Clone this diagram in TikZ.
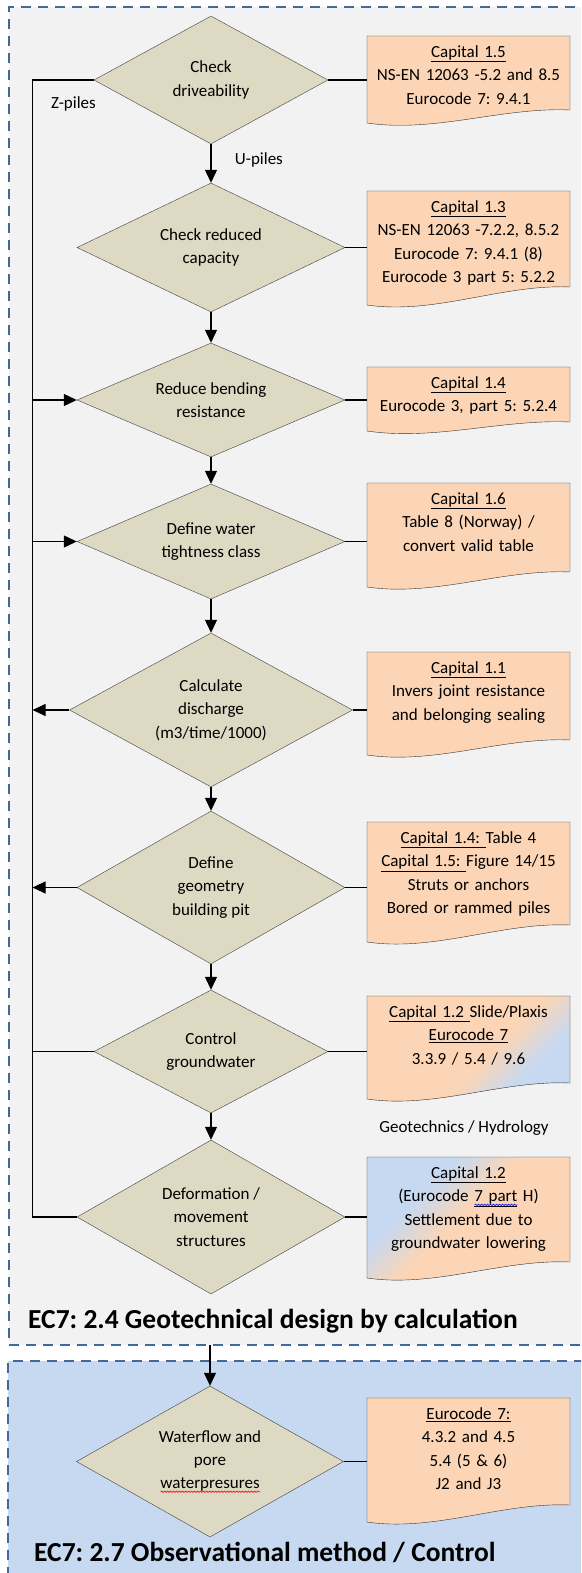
\documentclass[tikz,border=0pt]{standalone}
\usepackage{fontspec}
\setmainfont{Carlito}
\frenchspacing
\usetikzlibrary{shapes.geometric, arrows.meta, decorations.pathmorphing}

\definecolor{bgcalc}{RGB}{242,242,242}
\definecolor{bgobs}{RGB}{198,217,241}
\definecolor{dashblue}{RGB}{65,105,155}
\definecolor{tanfill}{RGB}{221,217,195}
\definecolor{docpeach}{RGB}{251,213,181}
\definecolor{docblue}{RGB}{198,217,241}

\pgfdeclarehorizontalshading{peachblue}{100bp}{color(0bp)=(docpeach); color(55bp)=(docpeach); color(68bp)=(docblue); color(100bp)=(docblue)}
\pgfdeclarehorizontalshading{bluepeach}{100bp}{color(0bp)=(docblue); color(34bp)=(docblue); color(47bp)=(docpeach); color(100bp)=(docpeach)}

\tikzstyle{phase} = [draw=dashblue, line width=2pt, dash pattern=on 10pt off 7pt, anchor=north west, outer sep=0pt]
\tikzstyle{check} = [diamond, draw=black!75, fill=tanfill, aspect=2, inner sep=0pt, align=center]
\tikzstyle{docpath} = [draw=black!80, fill=docpeach]
\tikzstyle{doctext} = [anchor=north, text width=191pt, inner xsep=6pt, inner ysep=0pt, align=center]
\tikzstyle{line} = [draw, line width=1.2pt]
\tikzstyle{arr} = [draw, line width=1.2pt, -{Triangle[length=13pt, width=12pt]}]
\tikzstyle{title} = [anchor=base west, inner sep=0pt, font=\fontsize{27.5}{32}\selectfont\bfseries]

% document sheet: [style] name, top, right bottom, left bottom, text
\newcommand{\docsheet}[6][]{%
  \path[docpath, #1] (367,#3) -- (570,#3) -- (570,#4)
    .. controls (502,#4-3) and (435,#5+10) .. (367,#5) -- cycle;
  \node[doctext] (#2) at (468.5,#3+9.5) {#6};}

% spell checker squiggle under a word
\newlength{\wavelen}
\newcommand{\spellwave}[2]{\settowidth{\wavelen}{#2}%
  \rlap{\tikz[baseline=3pt]\draw[#1, line width=0.6pt, decorate,
    decoration={snake, amplitude=0.7pt, segment length=3pt}] (0pt,0pt) -- (\wavelen,0pt);}#2}

\begin{document}
\begin{tikzpicture}[x=1pt, y=-1pt, font=\fontsize{17}{23.3}\selectfont]
    \useasboundingbox (0,0) rectangle (581,1573);
    \clip (0,0) rectangle (581,1573);

    \node[phase, fill=bgcalc, minimum width=600pt, minimum height=1338pt](calc) at (9,7) {};
    \node[phase, fill=bgobs, minimum width=600pt, minimum height=260pt](obs) at (8.3,1361) {};

    \node[check, minimum width=234pt, minimum height=128pt](d1) at (211,80) {Check\\driveability};
    \node[check, minimum width=268pt, minimum height=129pt](d2) at (211,247.5) {Check reduced\\capacity};
    \node[check, minimum width=268pt, minimum height=114pt](d3) at (211,400) {Reduce bending\\resistance};
    \node[check, minimum width=268pt, minimum height=115pt](d4) at (211,541.5) {Define water\\tightness class};
    \node[check, minimum width=283pt, minimum height=154pt](d5) at (211,710) {Calculate\\discharge\\(m3/time/1000)};
    \node[check, minimum width=268pt, minimum height=153pt](d6) at (211,887.5) {Define\\geometry\\building pit};
    \node[check, minimum width=234pt, minimum height=123pt](d7) at (211,1051.5) {Control\\groundwater};
    \node[check, minimum width=268pt, minimum height=154pt](d8) at (211,1217) {Deformation /\\movement\\structures};
    \node[check, minimum width=267pt, minimum height=151pt](d9) at (210,1461.5) {Waterflow and\\pore\\\spellwave{red}{waterpresures}};

    \docsheet{doc1}{36}{110}{123}{\underline{Capital 1.5}\\NS-EN 12063 -5.2 and 8.5\\Eurocode 7: 9.4.1}
    \docsheet{doc2}{191}{287}{305}{\underline{Capital 1.3}\\NS-EN 12063 -7.2.2, 8.5.2\\Eurocode 7: 9.4.1 (8)\\Eurocode 3 part 5: 5.2.2}
    \docsheet{doc3}{367}{422}{431}{\underline{Capital 1.4}\\Eurocode 3, part 5: 5.2.4}
    \docsheet{doc4}{483}{572}{587}{\underline{Capital 1.6}\\Table 8 (Norway) /\\convert valid table}
    \docsheet{doc5}{652}{740}{755}{\underline{Capital 1.1}\\Invers joint resistance\\and belonging sealing}
    \docsheet{doc6}{822}{925}{942}{\underline{Capital 1.4:\ }Table 4\\\underline{Capital 1.5:\ }Figure 14/15\\Struts or anchors\\Bored or rammed piles}
    \docsheet[shading=peachblue, shading angle=-45]{doc7}{996}{1083}{1099}{\underline{Capital 1.2\ }Slide/Plaxis\\\underline{Eurocode 7}\\3.3.9 / 5.4 / 9.6}
    \docsheet[shading=bluepeach, shading angle=-45]{doc8}{1157}{1262}{1278}{\underline{Capital 1.2}\\(Eurocode \spellwave{blue}{\underline{7 part}} H)\\Settlement due to\\groundwater lowering}
    \docsheet{doc9}{1398}{1505}{1522}{\underline{Eurocode 7:}\\4.3.2 and 4.5\\5.4 (5 \& 6)\\J2 and J3}

    % main column
    \path[arr] (d1) -- node[right, xshift=20pt, pos=0.4] {U-piles} (d2);
    \path[arr] (d2) -- (d3);
    \path[arr] (d3) -- (d4);
    \path[arr] (d4) -- (d5);
    \path[arr] (d5) -- (d6);
    \path[arr] (d6) -- (d7);
    \path[arr] (d7) -- (d8);
    \path[arr] (calc.south -| d9.north) -- (d9);

    % references
    \foreach \n in {1,...,9}
        \path[line] (d\n.east) -- (d\n.east -| doc\n.west);

    % Z-piles loop
    \coordinate (zline) at (32.6,0);
    \path[line] (d1.west) -- (d1.west -| zline) -- (d8.west -| zline) -- (d8.west);
    \path[arr] (d3.west -| zline) -- (d3.west);
    \path[arr] (d4.west -| zline) -- (d4.west);
    \path[arr] (d5.west) -- (d5.west -| zline);
    \path[arr] (d6.west) -- (d6.west -| zline);
    \path[line] (d7.west) -- (d7.west -| zline);
    \node (zpiles) at (73.5,104) {Z-piles};

    \node (geohyd) at (464,1128) {Geotechnics / Hydrology};

    \node[title] (calctitle) at (28,1328.5) {EC7: 2.4 Geotechnical design by calculation};
    \node[title] (obstitle) at (34,1561.7) {EC7: 2.7 Observational method / Control};
\end{tikzpicture}
\end{document}
